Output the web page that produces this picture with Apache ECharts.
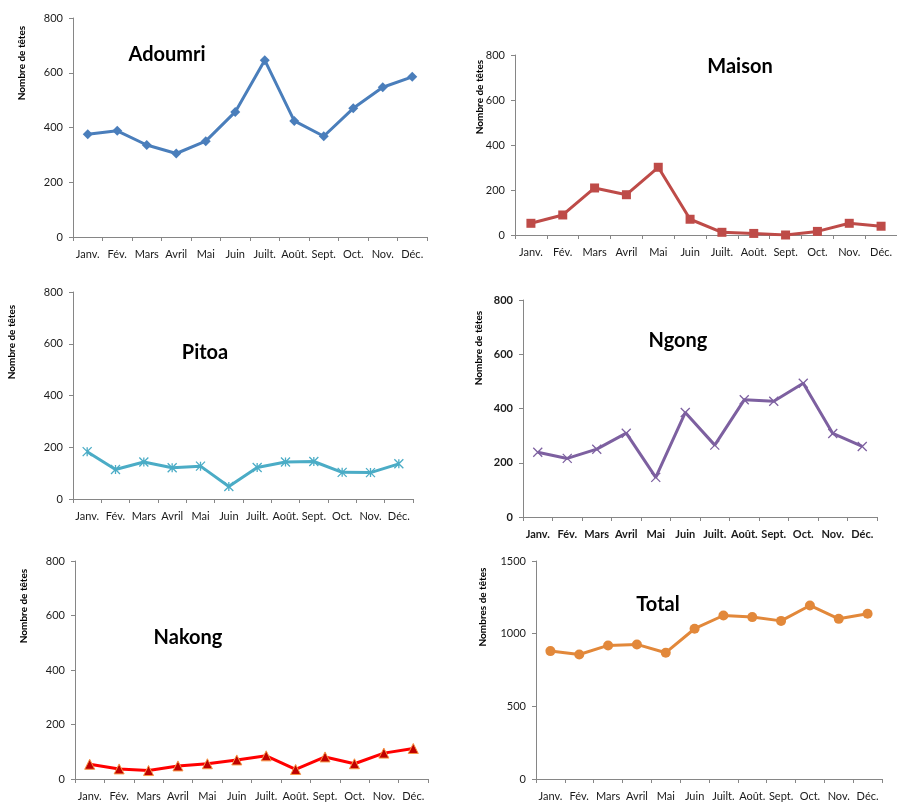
<!DOCTYPE html>
<html>
<head>
<meta charset="utf-8">
<script src="https://cdn.jsdelivr.net/npm/echarts@6/dist/echarts.min.js"></script>
<style>html,body{margin:0;padding:0;background:#fff;}#c{width:897px;height:803px;}</style>
</head>
<body>
<div id="c"></div>
<script>
const months = ['Janv.','Fév.','Mars','Avril','Mai','Juin','Juilt.','Août.','Sept.','Oct.','Nov.','Déc.'];
const adoumri = [375, 388, 336, 305, 350, 457, 646, 424, 368, 470, 547, 585];
const maison  = [52, 89, 209, 179, 301, 70, 12, 7, 0, 16, 52, 39];
const pitoa   = [183, 114, 143, 121, 127, 48, 122, 143, 145, 103, 102, 136];
const ngong   = [239, 216, 250, 309, 146, 385, 265, 432, 427, 493, 308, 260];
const nakong  = [54, 37, 31, 48, 56, 70, 85, 35, 81, 56, 95, 112];
const total   = [880, 857, 919, 926, 869, 1034, 1125, 1114, 1088, 1194, 1102, 1137];
const titles  = ['Adoumri','Maison','Pitoa','Ngong','Nakong','Total'];
const yNames  = ['Nombre de têtes','Nombre de têtes','Nombre de têtes','Nombre de têtes','Nombre de têtes','Nombres de têtes'];
const yMax    = [800, 800, 800, 800, 800, 1500];
const yStep   = [200, 200, 200, 200, 200, 500];

const FONT = 'Lato, "Open Sans", sans-serif';
const grids = [
  {left:73, top:18, width:354, height:219},
  {left:515, top:55, width:389, height:180},
  {left:73, top:292, width:340, height:207},
  {left:523, top:300, width:354, height:217},
  {left:75, top:561, width:353, height:218},
  {left:536, top:561, width:346, height:218}
];
const titlePos = [[167,55],[740,67],[205,353],[678,341],[188,638],[658,605]];
const yNamePos = [[22,63],[480,97],[12,342],[479,348],[24,606],[483,607]];
const boldTicks = [false,false,false,true,false,false];

const seriesDefs = [
  {data: adoumri, color:'#4A7EBB', symbol:'diamond', size:10},
  {data: maison, color:'#BE4B48', symbol:'rect', size:9},
  {data: pitoa, color:'#4BACC6', symbol:'path://M0,0L10,10M10,0L0,10M5,0L5,10', size:9, stroke:true},
  {data: ngong, color:'#7D60A0', symbol:'path://M0,0L10,10M10,0L0,10', size:9, stroke:true},
  {data: nakong, color:'#FF0000', symbol:'triangle', size:10, fill:'#C00000', border:'#F79646'},
  {data: total, color:'#E2883A', symbol:'circle', size:10}
];

const axisLine = {show:true, lineStyle:{color:'#868686', width:1}};
const xAxes = [], yAxes = [], series = [], graphic = [];
grids.forEach((g, i) => {
  xAxes.push({
    type:'category', gridIndex:i, data:months, boundaryGap:true,
    axisLine: axisLine,
    axisTick:{show:true, length:4, lineStyle:{color:'#868686'}},
    axisLabel:{interval:0, margin:12, fontSize:11, color:'#1a1a1a', fontFamily:FONT, fontWeight: boldTicks[i]?'bold':'normal'}
  });
  yAxes.push({
    type:'value', gridIndex:i, min:0, max:yMax[i], interval:yStep[i],
    axisLine: axisLine,
    axisTick:{show:true, length:4, lineStyle:{color:'#868686'}},
    splitLine:{show:false},
    axisLabel:{margin:10, fontSize:11, color:'#1a1a1a', fontFamily:FONT, fontWeight: boldTicks[i]?'bold':'normal',
      formatter: v => String(v)}
  });
  const s = seriesDefs[i];
  series.push({
    type:'line', xAxisIndex:i, yAxisIndex:i, data:s.data,
    symbol:s.symbol, symbolSize:s.size, showSymbol:true,
    lineStyle:{color:s.color, width:3},
    itemStyle: s.stroke ? {color:s.color, borderColor:s.color, borderWidth:1.3}
      : (s.fill ? {color:s.fill, borderColor:s.border, borderWidth:1} : {color:s.color, borderColor:s.color, borderWidth:0}),
    animation:false, silent:true
  });
  graphic.push({
    type:'text', x:titlePos[i][0], y:titlePos[i][1],
    style:{text:titles[i], font:'bold 20px ' + FONT, fill:'#000', textAlign:'center', textVerticalAlign:'middle'}
  });
  graphic.push({
    type:'text', x:yNamePos[i][0], y:yNamePos[i][1], rotation:Math.PI/2,
    style:{text:yNames[i], font:'bold 10px ' + FONT, fill:'#000', textAlign:'center', textVerticalAlign:'middle'}
  });
});

const chart = echarts.init(document.getElementById('c'), null, {renderer:'canvas'});
chart.setOption({
  animation:false,
  backgroundColor:'#fff',
  grid: grids,
  xAxis: xAxes,
  yAxis: yAxes,
  series: series,
  graphic: graphic
});
</script>
</body>
</html>
